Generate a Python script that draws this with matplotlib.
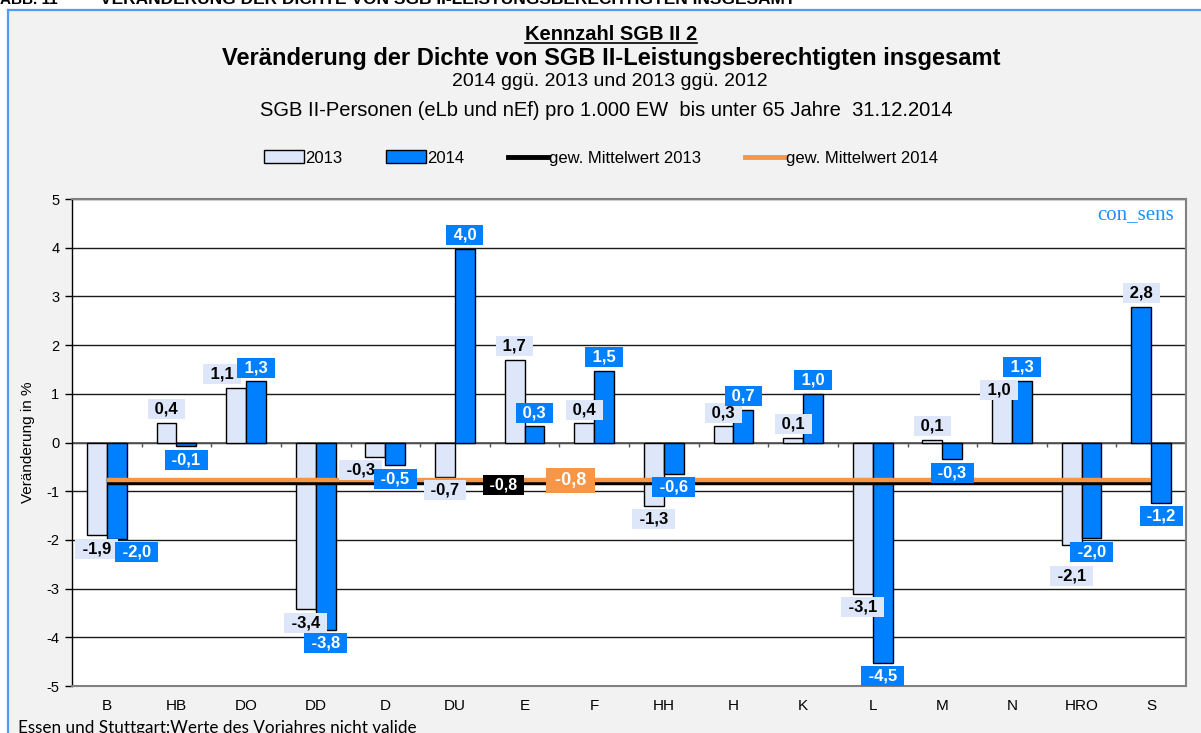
import numpy as np
import matplotlib
matplotlib.use('Agg')
import matplotlib.pyplot as plt
from matplotlib import font_manager
from matplotlib.patches import Patch, Rectangle
from matplotlib.lines import Line2D

# Daten
cities = ['B', 'HB', 'DO', 'DD', 'D', 'DU', 'E', 'F', 'HH', 'H', 'K', 'L', 'M', 'N', 'HRO', 'S']
val_2013 = [-1.90, 0.41, 1.12, -3.42, -0.29, -0.70, 1.70, 0.40, -1.30, 0.33, 0.10, -3.11, 0.06, 1.00, -2.11, 2.79]
val_2014 = [-1.98, -0.08, 1.26, -3.84, -0.47, 3.98, 0.33, 1.47, -0.64, 0.67, 1.00, -4.52, -0.34, 1.27, -1.97, -1.24]
mean_2013 = -0.84
mean_2014 = -0.78
y_ticks = [-5, -4, -3, -2, -1, 0, 1, 2, 3, 4, 5]

# Farben
light = '#dde7f9'
blue = '#0080ff'
orange = '#f79646'

# Label-Verschiebungen (Pixel, dy positiv = nach unten) wie im Original
nudge = {('B', 2014): (20, 0), ('DO', 2013): (-14, 0), ('D', 2013): (-15, 0),
         ('N', 2013): (-3, 10), ('HRO', 2013): (0, 17)}

plt.rcParams['axes.unicode_minus'] = False
installed = {f.name for f in font_manager.fontManager.ttflist}
narrow = 'Liberation Sans Narrow' if 'Liberation Sans Narrow' in installed else 'Liberation Sans'
sans = 'Liberation Sans'
plt.rcParams['font.family'] = [sans, 'DejaVu Sans']

W, H = 1201, 733
fig = plt.figure(figsize=(W / 100, H / 100), dpi=100)
fig.patch.set_facecolor('white')


def fx(px):
    return px / W


def fy(py):
    return 1 - py / H


# Rahmen / Hintergrund
fig.patches.append(Rectangle((fx(8), 0), 1, fy(10), transform=fig.transFigure,
                             facecolor='#f2f2f2', edgecolor='none', zorder=-5))
fig.lines.append(Line2D([fx(8), fx(8)], [0, fy(10)], transform=fig.transFigure, color='#4d9ef2', lw=1.6, zorder=-4))
fig.lines.append(Line2D([fx(8), 1], [fy(10), fy(10)], transform=fig.transFigure, color='#4d9ef2', lw=1.6, zorder=-4))

fig.text(0, fy(4), 'ABB. 11', fontsize=11, fontweight='bold', va='baseline', family=sans)
fig.text(fx(100), fy(4), 'VERÄNDERUNG DER DICHTE VON SGB II-LEISTUNGSBERECHTIGTEN INSGESAMT',
         fontsize=12.5, fontweight='bold', va='baseline', family=sans)

# Titel
kz = fig.text(fx(611), fy(35), 'Kennzahl SGB II 2', fontsize=14.5, fontweight='bold',
              ha='center', va='center', family=narrow)
fig.text(fx(611), fy(58), 'Veränderung der Dichte von SGB II-Leistungsberechtigten insgesamt',
         fontsize=17, fontweight='bold', ha='center', va='center', family=narrow)
fig.text(fx(610), fy(82), '2014 ggü. 2013 und 2013 ggü. 2012', fontsize=14,
         ha='center', va='center', family=narrow)
fig.text(fx(606), fy(110), 'SGB II-Personen (eLb und nEf) pro 1.000 EW  bis unter 65 Jahre  31.12.2014',
         fontsize=14.5, ha='center', va='center', family=narrow)

ax = fig.add_axes([fx(72), fy(686), fx(1186 - 72), (686 - 199) / H])
ax.set_facecolor('white')

x = np.arange(len(cities))
bw = 0.285
c13 = [light] * len(cities)
c13[cities.index('S')] = blue  # S im Original blau eingefaerbt
ax.bar(x - bw / 2, val_2013, bw, color=c13, edgecolor='black', lw=1.0, zorder=3)
ax.bar(x + bw / 2, val_2014, bw, color=blue, edgecolor='black', lw=1.0, zorder=3)

ax.plot(x, np.full(len(cities), mean_2013), color='black', lw=3.2, zorder=4, solid_capstyle='butt')
ax.plot(x, np.full(len(cities), mean_2014), color=orange, lw=3.2, zorder=4, solid_capstyle='butt')

ax.set_xlim(-0.5, len(cities) - 0.5)
ax.set_ylim(y_ticks[0], y_ticks[-1])
ax.set_yticks(y_ticks)
ax.set_yticklabels([str(t) for t in y_ticks])
ax.set_xticks(x)
ax.set_xticklabels(cities)
ax.tick_params(axis='x', length=0, pad=9, labelsize=11)
ax.tick_params(axis='y', length=5, width=1, pad=4, labelsize=10.5)
ax.set_axisbelow(True)
ax.grid(axis='y', color='#1a1a1a', lw=1.0, zorder=1)
ax.axhline(0, color='#555555', lw=1.2, zorder=2)
ax.vlines(np.arange(0.5, len(cities), 1), -0.1, 0, color='#555555', lw=1.0, zorder=2)
for s in ['top', 'right', 'bottom']:
    ax.spines[s].set_color('#808080')
    ax.spines[s].set_linewidth(1.5)
ax.spines['left'].set_color('black')
ax.spines['left'].set_linewidth(1.0)


def fmt(v):
    return f'{v:.1f}'.replace('.', ',')


def label(xp, v, key, fg, bg):
    dx, dy = nudge.get(key, (0, 0))
    off = 6 if v >= 0 else -6
    ax.annotate(' ' + fmt(v) + ' ', (xp, v), xytext=(dx * 0.72, (off - dy) * 0.72),
                textcoords='offset points', ha='center', va='bottom' if v >= 0 else 'top',
                fontsize=12, fontweight='bold', color=fg, zorder=6,
                bbox=dict(boxstyle='square,pad=0.15', fc=bg, ec='none'))


for i, c in enumerate(cities):
    label(x[i] - bw / 2, val_2013[i], (c, 2013), 'black', light)
    label(x[i] + bw / 2, val_2014[i], (c, 2014), 'white', blue)

# Mittelwert-Labels
ax.annotate(' ' + fmt(mean_2013) + ' ', (cities.index('E'), mean_2013), xytext=(-15, -1),
            textcoords='offset points', ha='center', va='center', fontsize=11.5,
            fontweight='bold', color='white', zorder=6,
            bbox=dict(boxstyle='square,pad=0.15', fc='black', ec='none'))
ax.annotate(' ' + fmt(mean_2014) + ' ', (cities.index('F'), mean_2014), xytext=(-17, 0),
            textcoords='offset points', ha='center', va='center', fontsize=13,
            fontweight='bold', color='white', zorder=6,
            bbox=dict(boxstyle='square,pad=0.2', fc=orange, ec='none'))

ax.text(0.989, 0.968, 'con_sens', transform=ax.transAxes, ha='right', va='center',
        fontsize=15, color='#1e8fff', family='Liberation Serif')

fig.text(fx(28), fy(442), 'Veränderung in %', rotation=90, ha='center', va='center', fontsize=11)

handles = [Patch(facecolor=light, edgecolor='black', lw=1.0),
           Patch(facecolor=blue, edgecolor='black', lw=1.0),
           Line2D([], [], color='black', lw=3.5),
           Line2D([], [], color=orange, lw=3.5)]
fig.legend(handles, ['2013', '2014', 'gew. Mittelwert 2013', 'gew. Mittelwert 2014'],
           loc='center', bbox_to_anchor=(fx(601), fy(158)), ncol=4, frameon=False,
           handlelength=2.4, handleheight=0.8, handletextpad=0.1, columnspacing=2.6,
           prop={'family': narrow, 'size': 12})

fig.text(fx(18), 0.0, 'Essen und Stuttgart:Werte des Vorjahres nicht valide', fontsize=12.3,
         va='baseline', family=['Lato', 'DejaVu Sans'])

# Unterstreichung Kennzahl
fig.canvas.draw()
bb = kz.get_window_extent().transformed(fig.transFigure.inverted())
fig.lines.append(Line2D([bb.x0, bb.x1], [bb.y0 + 0.002, bb.y0 + 0.002], transform=fig.transFigure,
                        color='black', lw=1.2))

fig.savefig('out.png', dpi=100)
